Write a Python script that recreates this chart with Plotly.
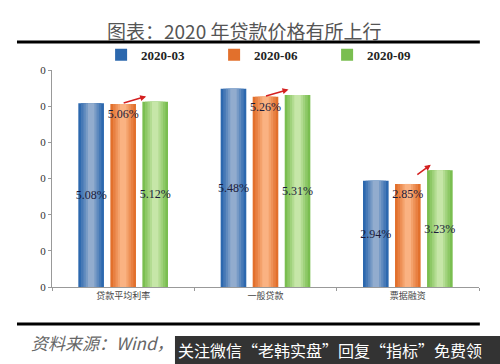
import plotly.graph_objects as go

categories = ["贷款平均利率", "一般贷款", "票据融资"]
series_names = ["2020-03", "2020-06", "2020-09"]
v_2020_03 = [5.08, 5.48, 2.94]
v_2020_06 = [5.06, 5.26, 2.85]
v_2020_09 = [5.12, 5.31, 3.23]
y_ticks = [0, 1, 2, 3, 4, 5, 6]
y_tick_labels = ["0", "0", "0", "0", "0", "0", "0"]

# style: edge colour and centre colour for a cylinder-like shading
edge_colors = [(44, 104, 174), (226, 112, 44), (122, 190, 80)]
centre_colors = [(146, 172, 206), (250, 178, 130), (198, 230, 168)]
values = [v_2020_03, v_2020_06, v_2020_09]
text_pos = ["middle", "end", "middle"]
centres = [-0.225, 0.0, 0.225]
bar_w = 0.18
layer_frac = [1.0, 0.8, 0.6, 0.42, 0.25]
arrow_tail = [(-24, 7), (-24, 7), (-15, 11)]


def mix(c1, c2, t):
    return "rgb(%d,%d,%d)" % tuple(round(a + (b - a) * t) for a, b in zip(c1, c2))


fig = go.Figure()
for s, (name, vals, pos) in enumerate(zip(series_names, values, text_pos)):
    n = len(layer_frac)
    for k, f in enumerate(layer_frac):
        w = bar_w * f
        last = k == n - 1
        fig.add_trace(go.Bar(
            x=categories, y=vals, name=name, legendgroup=name,
            showlegend=(k == 0),
            width=[w] * len(vals), offset=[centres[s] - w / 2] * len(vals),
            marker=dict(color=mix(edge_colors[s], centre_colors[s], k / (n - 1)),
                        line=dict(width=0)),
            text=[f"{v:.2f}%" for v in vals] if last else None,
            textposition="inside" if last else "none",
            insidetextanchor=pos, constraintext="none",
            textfont=dict(family="Liberation Serif", size=12, color="#1b1b3a"),
            textangle=0, cliponaxis=False, hoverinfo="skip" if not last else None,
        ))

# red arrows from orange bar top toward green bar top
for i, cat in enumerate(categories):
    axp, ayp = arrow_tail[i]
    fig.add_annotation(
        x=cat, y=max(v_2020_06[i], v_2020_09[i]) + 0.15, xref="x", yref="y",
        ax=axp, ay=ayp, axref="pixel", ayref="pixel",
        xshift=23, text="", showarrow=True, arrowhead=2, arrowsize=0.8,
        arrowwidth=1.5, arrowcolor="#D42020",
    )

fig.update_layout(
    width=500, height=364,
    margin=dict(l=52, r=21, t=70, b=77),
    paper_bgcolor="white", plot_bgcolor="white",
    barmode="overlay",
    showlegend=True,
    legend=dict(orientation="h", x=0.115, y=1.07, yanchor="middle", xanchor="left",
                entrywidth=68, entrywidthmode="pixels",
                font=dict(family="Liberation Serif", size=13, color="#222", weight="bold"),
                bgcolor="rgba(0,0,0,0)", itemwidth=30),
    xaxis=dict(showline=True, linecolor="#999", linewidth=1, ticks="outside",
               tickson="boundaries", ticklen=3, tickcolor="#999", showgrid=False,
               tickfont=dict(family="Noto Sans CJK SC", size=9, color="#444")),
    yaxis=dict(range=[0, 6], tickvals=y_ticks, ticktext=y_tick_labels,
               showline=True, linecolor="#999", linewidth=1, ticks="outside",
               ticklen=3, tickcolor="#999", showgrid=False, zeroline=False,
               tickfont=dict(family="Liberation Serif", size=11, color="#333")),
    font=dict(family="Liberation Serif"),
)

# title and frame lines
fig.add_annotation(text="图表：2020 年贷款价格有所上行", xref="paper", yref="paper",
                   x=0.45, y=1.184, showarrow=False, yanchor="middle",
                   font=dict(family="Noto Sans CJK SC", size=19, color="#555"))
fig.add_shape(type="line", xref="paper", yref="paper", x0=-0.082, x1=1.002,
              y0=1.129, y1=1.129, line=dict(color="black", width=3))
fig.add_shape(type="line", xref="paper", yref="paper", x0=-0.082, x1=1.002,
              y0=-0.1705, y1=-0.1705, line=dict(color="black", width=3))
fig.add_annotation(text="<i>资料来源：Wind，</i>", xref="paper", yref="paper",
                   x=-0.055, y=-0.258, xanchor="left", yanchor="middle", showarrow=False,
                   font=dict(family="Noto Sans CJK SC", size=17, color="#666"))
fig.add_shape(type="rect", xref="paper", yref="paper", x0=0.288, x1=1.06,
              y0=-0.226, y1=-0.36, fillcolor="#333333", line=dict(width=0))
fig.add_annotation(text="关注微信“老韩实盘”回复“指标”免费领", xref="paper", yref="paper",
                   x=0.29, y=-0.292, xanchor="left", yanchor="middle", showarrow=False,
                   font=dict(family="Noto Sans CJK SC", size=16, color="white"))

fig.write_html("out.html", config={"displayModeBar": False},
               post_script="document.body.style.margin='0';")
